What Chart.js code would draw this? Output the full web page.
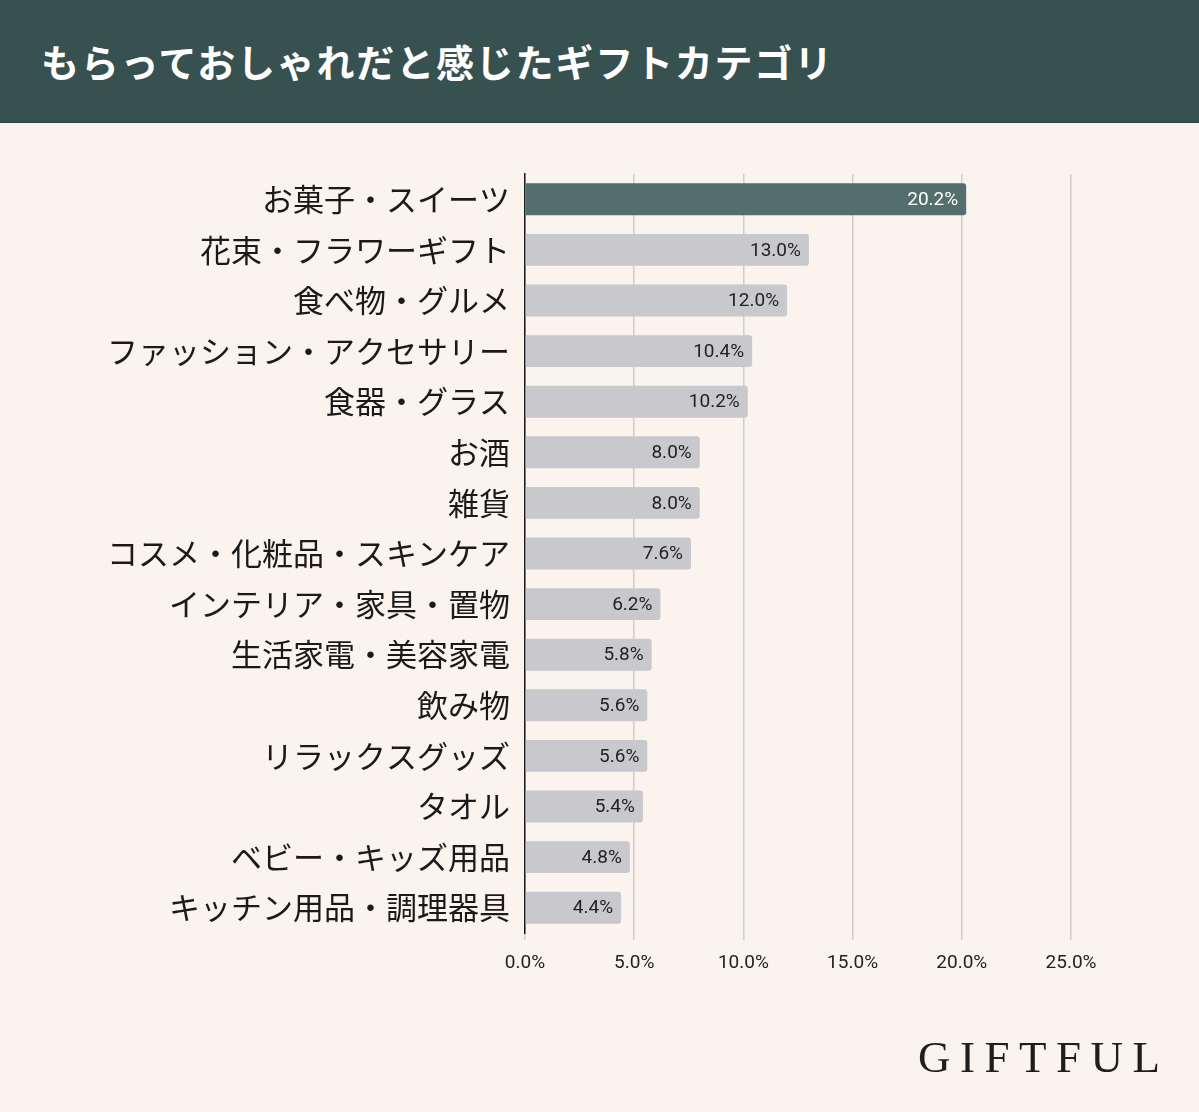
<!DOCTYPE html>
<html>
<head>
<meta charset="utf-8">
<script src="https://cdn.jsdelivr.net/npm/chart.js@4/dist/chart.umd.min.js"></script>
<style>
  html, body { margin: 0; padding: 0; }
  body { width: 1199px; height: 1112px; background: #FBF3EE; position: relative; overflow: hidden; font-family: "Noto Sans CJK JP", sans-serif; }
  #title { position: absolute; left: 0; top: 0; width: 1199px; height: 123px; background: #375150; border-bottom: 1px solid #2c4342; box-sizing: border-box; }
  #title h1 { margin: 0; position: absolute; left: 41px; top: 35px; color: #fff; font-size: 38px; font-weight: 700; line-height: 52px; letter-spacing: 1.8px; }
  #wrap { position: absolute; left: 0; top: 123px; width: 1199px; height: 989px; }
  #logo { position: absolute; left: 918px; top: 1031px; font-family: "Liberation Serif", serif; font-size: 45px; letter-spacing: 9.5px; color: #1e1e1e; }
</style>
</head>
<body>
<div id="title"><h1>もらっておしゃれだと感じたギフトカテゴリ</h1></div>
<div id="wrap"><canvas id="cnvChart" width="1199" height="989"></canvas></div>
<div id="logo">GIFTFUL</div>
<script>
  let categories = [
    'お菓子・スイーツ', '花束・フラワーギフト', '食べ物・グルメ', 'ファッション・アクセサリー',
    '食器・グラス', 'お酒', '雑貨', 'コスメ・化粧品・スキンケア', 'インテリア・家具・置物',
    '生活家電・美容家電', '飲み物', 'リラックスグッズ', 'タオル', 'ベビー・キッズ用品', 'キッチン用品・調理器具'
  ]
  let values = [20.2, 13.0, 12.0, 10.4, 10.2, 8.0, 8.0, 7.6, 6.2, 5.8, 5.6, 5.6, 5.4, 4.8, 4.4]
  let xTicks = [0, 5, 10, 15, 20, 25]

  let barColors = values.map((v, i) => i == 0 ? '#546E6C' : '#C9C8CC')

  // value labels inside the bar ends
  let valueLabels = {
    id: 'valueLabels',
    afterDatasetsDraw(chart) {
      let ctx = chart.ctx
      let meta = chart.getDatasetMeta(0)
      ctx.save()
      ctx.font = '19px Roboto, sans-serif'
      ctx.textAlign = 'right'
      ctx.textBaseline = 'middle'
      meta.data.forEach((bar, i) => {
        ctx.fillStyle = i == 0 ? '#ffffff' : '#222222'
        ctx.fillText(values[i].toFixed(1) + '%', bar.x - 8, bar.y + 1)
      })
      ctx.restore()
    }
  }

  let ctx = document.getElementById('cnvChart').getContext('2d')
  let chart = new Chart(ctx, {
    type: 'bar',
    data: {
      labels: categories,
      datasets: [{
        data: values,
        backgroundColor: barColors,
        borderRadius: 3,
        borderSkipped: 'start',
        barPercentage: 0.63,
        categoryPercentage: 1,
      }],
    },
    options: {
      indexAxis: 'y',
      responsive: false,
      animation: false,
      layout: { padding: { left: 0, right: 128, top: 51, bottom: 119 } },
      plugins: { legend: { display: false }, tooltip: { enabled: false } },
      scales: {
        x: {
          min: 0,
          max: 25,
          afterBuildTicks: (scale) => { scale.ticks = xTicks.map((v) => ({ value: v })) },
          afterFit: (scale) => { scale.height = 60 },
          grid: { color: '#D5CBC9', lineWidth: 1.5, drawTicks: true, tickLength: 7 },
          border: { display: false },
          ticks: {
            padding: 12,
            color: '#222',
            font: { family: 'Roboto, sans-serif', size: 19 },
            callback: (v) => Number(v).toFixed(1) + '%',
          },
        },
        y: {
          afterFit: (scale) => { scale.width = 525 },
          grid: { display: false },
          border: { display: true, color: '#1a1a1a', width: 1.5 },
          ticks: {
            padding: 7,
            color: '#1a1a1a',
            font: { family: '"Noto Sans CJK JP", sans-serif', size: 31 },
          },
        },
      },
    },
    plugins: [valueLabels],
  })
</script>
</body>
</html>
